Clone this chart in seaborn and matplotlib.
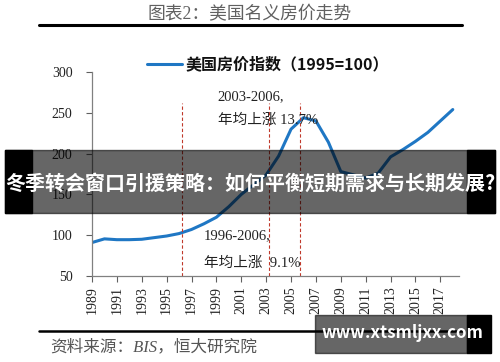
import numpy as np
import pandas as pd
import matplotlib
matplotlib.use("Agg")
import matplotlib.pyplot as plt
import seaborn as sns
from matplotlib.patches import Rectangle
from matplotlib.lines import Line2D

# 数据
years = list(range(1989, 2019))
index_values = [91, 95.5, 94.5, 94.5, 95, 97, 99, 102, 107, 114,
                122, 135, 150, 162, 174, 197, 230, 244, 240, 214,
                178, 174, 170, 176, 196, 205, 215, 226, 240, 254]
x_ticks = list(range(1989, 2018, 2))
y_ticks = [50, 100, 150, 200, 250, 300]
vlines = [1996.2, 2003.2, 2005.7]

title = "图表2：美国名义房价走势"
legend_label = "美国房价指数（1995=100）"
source = "资料来源：BIS，恒大研究院"
banner = "冬季转会窗口引援策略：如何平衡短期需求与长期发展?"
watermark = "www.xtsmljxx.com"

sns.set_style("ticks")
plt.rcParams['font.family'] = ['Liberation Serif', 'Noto Sans CJK SC', 'DejaVu Sans']
serif = ['Liberation Serif', 'Noto Sans CJK SC']
sans = ['Noto Sans CJK SC', 'DejaVu Sans']

df = pd.DataFrame({'年份': years, '指数': index_values})

fig = plt.figure(figsize=(5, 3.62), dpi=100)
ax = fig.add_axes([0.184, 0.2376, 0.734, 0.5635])

sns.lineplot(data=df, x='年份', y='指数', ax=ax, color='#1f77c4', linewidth=2.2)

for v in vlines:
    ax.plot([v, v], [50, 262], color='#c0392b', linestyle=(0, (3, 2)), linewidth=0.8)

ax.set_xlim(1989, 2018.5)
ax.set_ylim(50, 300)
ax.set_xticks(x_ticks)
ax.set_xticklabels([str(y) for y in x_ticks], rotation=90, fontsize=10, family=serif)
ax.set_yticks(y_ticks)
ax.set_yticklabels([str(y) for y in y_ticks], fontsize=10, family=serif)
ax.tick_params(axis='both', direction='out', length=4, width=0.8, colors='#606060', labelcolor='#222222')
ax.tick_params(axis='y', pad=10)
ax.set_xlabel('')
ax.set_ylabel('')
for s in ['top', 'right']:
    ax.spines[s].set_visible(False)
for s in ['left', 'bottom']:
    ax.spines[s].set_color('#808080')
    ax.spines[s].set_linewidth(0.9)

# 注释
ax.text(1999.1, 270, "2003-2006,", fontsize=10.5, family=serif, color='#222222', va='center')
ax.text(1999.1, 241, "年均上涨 13.7%", fontsize=10.5, family=serif, color='#222222', va='center')
ax.text(1998.0, 100, "1996-2006,", fontsize=10.5, family=serif, color='#222222', va='center')
ax.text(1998.0, 66, "年均上涨  9.1%", fontsize=10.5, family=serif, color='#222222', va='center')

# 图例
fig.add_artist(Line2D([147 / 500, 182 / 500], [1 - 64 / 362, 1 - 64 / 362],
                      color='#1f77c4', linewidth=2.2, transform=fig.transFigure))
fig.text(186 / 500, 1 - 64 / 362, legend_label, fontsize=11.5, fontweight='bold',
         family=sans, va='center', ha='left', color='#111111')

# 标题与分隔线
fig.text(0.5, 1 - 15 / 362, title, fontsize=12.8, family=serif, color='#606060',
         ha='center', va='center')
fig.add_artist(Line2D([39 / 500, 462 / 500], [1 - 24.5 / 362, 1 - 24.5 / 362],
                      color='black', linewidth=2.2, transform=fig.transFigure))
fig.add_artist(Line2D([39 / 500, 462 / 500], [1 - 331 / 362, 1 - 331 / 362],
                      color='black', linewidth=1.8, transform=fig.transFigure))
fig.text(50 / 500, 1 - 347 / 362, source, fontsize=12, family=serif, style='italic',
         color='#555555', ha='left', va='center')

# 横幅覆盖层
fig.add_artist(Rectangle((5 / 500, 1 - 213 / 362), 490 / 500, 63 / 362,
                         transform=fig.transFigure, color='black', alpha=0.6, zorder=10))
fig.add_artist(Rectangle((5 / 500, 1 - 213 / 362), 27 / 500, 63 / 362,
                         transform=fig.transFigure, color='black', zorder=10))
fig.add_artist(Rectangle((467 / 500, 1 - 213 / 362), 28 / 500, 63 / 362,
                         transform=fig.transFigure, color='black', zorder=10))
fig.text(0.5, 1 - 183 / 362, banner, fontsize=14.4, fontweight='bold', family=sans,
         color='white', ha='center', va='center', zorder=11)

# 水印
fig.add_artist(Rectangle((315 / 500, 1 - 353 / 362), 152 / 500, 38 / 362,
                         transform=fig.transFigure, color='black', alpha=0.6, zorder=10))
fig.add_artist(Rectangle((467 / 500, 1 - 353 / 362), 24 / 500, 38 / 362,
                         transform=fig.transFigure, color='black', zorder=10))
fig.text(402 / 500, 1 - 333 / 362, watermark, fontsize=12.2, fontweight='bold',
         family=sans, color='white', ha='center', va='center', zorder=11)

fig.savefig("out.png", dpi=100)
